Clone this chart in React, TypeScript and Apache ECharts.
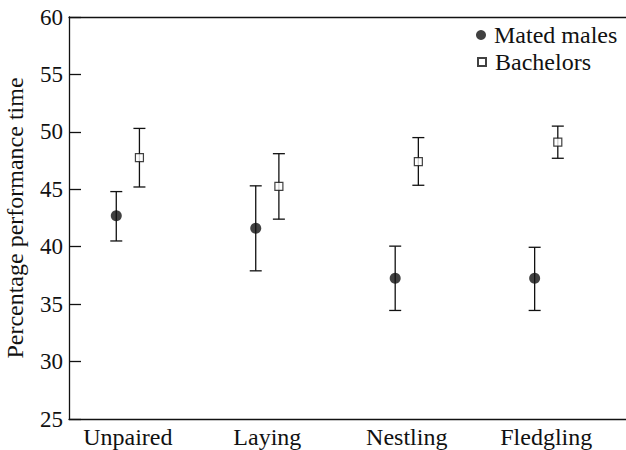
import React, { useEffect, useRef } from "react";
import * as echarts from "echarts";

const categories = ["Unpaired", "Laying", "Nestling", "Fledgling"];
const matedMean = [42.7, 41.6, 37.25, 37.25];
const matedLow = [40.5, 37.9, 34.45, 34.45];
const matedHigh = [44.8, 45.3, 40.05, 39.95];
const bachMean = [47.75, 45.25, 47.4, 49.1];
const bachLow = [45.2, 42.4, 45.35, 47.7];
const bachHigh = [50.3, 48.1, 49.5, 50.5];

const FONT = "Liberation Serif";
const INK = "#111111";
const OFFSET = 0.083;

export default function App() {
  const ref = useRef<HTMLDivElement>(null);
  useEffect(() => {
    if (!ref.current) return;
    const chart = echarts.init(ref.current, null, { renderer: "svg" });
    const matedPts = matedMean.map((v, i) => [i + 1 - OFFSET, v]);
    const bachPts = bachMean.map((v, i) => [i + 1 + OFFSET, v]);
    const errData = [
      ...matedLow.map((lo, i) => [i + 1 - OFFSET, lo, matedHigh[i]]),
      ...bachLow.map((lo, i) => [i + 1 + OFFSET, lo, bachHigh[i]]),
    ];
    const renderErr = (params: any, api: any) => {
      const x = api.value(0);
      const top = api.coord([x, api.value(2)]);
      const bot = api.coord([x, api.value(1)]);
      const hw = 6;
      const style = { stroke: INK, lineWidth: 1.3 };
      return {
        type: "group",
        children: [
          { type: "line", shape: { x1: top[0], y1: top[1], x2: bot[0], y2: bot[1] }, style },
          { type: "line", shape: { x1: top[0] - hw, y1: top[1], x2: top[0] + hw, y2: top[1] }, style },
          { type: "line", shape: { x1: bot[0] - hw, y1: bot[1], x2: bot[0] + hw, y2: bot[1] }, style },
        ],
      };
    };
    chart.setOption({
      animation: false,
      grid: { left: 69, right: 0, top: 17, bottom: 31, containLabel: false, outerBoundsMode: "none" },
      legend: [
        {
          orient: "vertical",
          left: 476,
          top: 23,
          padding: 0,
          itemWidth: 10,
          itemHeight: 10,
          data: [{ name: "Mated males", icon: "circle" }],
          textStyle: { fontFamily: FONT, fontSize: 24, color: INK, padding: [0, 0, 0, 3] },
        },
        {
          orient: "vertical",
          left: 477,
          top: 50,
          padding: 0,
          itemWidth: 8,
          itemHeight: 8,
          data: [{ name: "Bachelors", icon: "rect" }],
          textStyle: { fontFamily: FONT, fontSize: 24, color: INK, padding: [0, 0, 0, 4] },
        },
      ],
      xAxis: [
        {
          type: "value",
          min: 0.578,
          max: 4.572,
          position: "bottom",
          axisLine: { show: true, lineStyle: { color: INK, width: 1.3 } },
          axisTick: { show: false },
          splitLine: { show: false },
          axisLabel: {
            customValues: [1, 2, 3, 4],
            formatter: (v: number) => categories[Math.round(v) - 1] ?? "",
            fontFamily: FONT,
            fontSize: 24,
            color: INK,
            margin: 6,
          },
        },
        {
          type: "value",
          min: 0.578,
          max: 4.572,
          position: "top",
          axisLine: { show: true, lineStyle: { color: INK, width: 1.3 } },
          axisTick: { show: false },
          splitLine: { show: false },
          axisLabel: { show: false },
        },
      ],
      yAxis: {
        type: "value",
        min: 25,
        max: 60,
        interval: 5,
        name: "Percentage performance time",
        nameLocation: "middle",
        nameGap: 42,
        nameTextStyle: { fontFamily: FONT, fontSize: 24, color: INK },
        axisLine: { show: true, lineStyle: { color: INK, width: 1.3 } },
        axisTick: { show: true, inside: true, length: 12, lineStyle: { color: INK, width: 1.3 } },
        splitLine: { show: false },
        axisLabel: { fontFamily: FONT, fontSize: 23, color: INK, margin: 6 },
      },
      series: [
        {
          type: "custom",
          name: "err",
          renderItem: renderErr,
          data: errData,
          encode: { x: 0, y: [1, 2] },
          z: 1,
          silent: true,
        },
        {
          type: "scatter",
          name: "Mated males",
          data: matedPts,
          symbol: "circle",
          symbolSize: 11,
          itemStyle: { color: INK },
          z: 3,
        },
        {
          type: "scatter",
          name: "Bachelors",
          data: bachPts,
          symbol: "rect",
          symbolSize: 8,
          itemStyle: { color: "#ffffff", borderColor: INK, borderWidth: 1.2 },
          z: 3,
        },
      ],
    });
    return () => chart.dispose();
  }, []);
  return (
    <div
      ref={ref}
      style={{ position: "absolute", left: 0, top: 0, width: 626, height: 450, background: "#fff" }}
    />
  );
}
